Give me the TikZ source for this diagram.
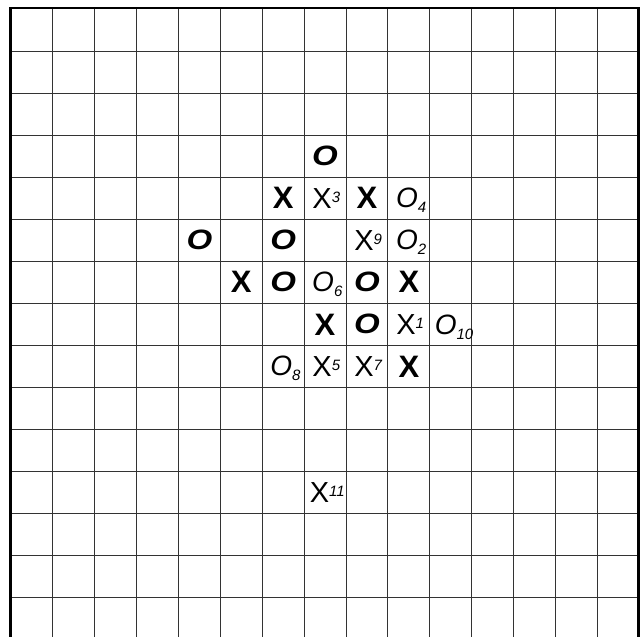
\documentclass[tikz,border=0pt]{standalone}
\usepackage{fontspec}
\setmainfont{Liberation Sans}
\newcommand{\supnum}[1]{{\fontsize{15}{15}\selectfont\itshape\raisebox{6pt}{#1}}}
\newcommand{\subnum}[1]{{\fontsize{15}{15}\selectfont\itshape\raisebox{-5pt}{#1}}}
\newcommand{\wideO}{\scalebox{1.18}[1]{O}}
\begin{document}
\begin{tikzpicture}[x=1pt,y=-1pt,
  gridline/.style={black!80,line width=1pt},
  frameline/.style={black,line width=2.8pt},
  boldX/.style={font=\fontsize{31}{31}\selectfont\bfseries, inner sep=0pt},
  boldO/.style={font=\fontsize{28}{28}\selectfont\bfseries\itshape, inner sep=0pt},
  thinX/.style={font=\fontsize{29}{29}\selectfont, inner sep=0pt},
  thinO/.style={font=\fontsize{28}{28}\selectfont\itshape, inner sep=0pt}]
\useasboundingbox (0,0) rectangle (643,637);
% grid
\foreach \k in {1,...,14}
  \draw[gridline] ({10.8+41.9*\k},9) -- ({10.8+41.9*\k},637);
\foreach \j in {1,...,14}
  \draw[gridline] (10.8,{9+42.05*\j}) -- (638.5,{9+42.05*\j});
\draw[frameline] (10.8,637) -- (10.8,8) -- (638.5,8) -- (638.5,637);
% marks
\node[boldO] (o73) at ({31.75+41.9*7},{30+42.05*3}) {\wideO};
\node[boldX] (x64) at ({31.75+41.9*6},{30+42.05*4}) {X};
\node[thinX] (x74) at ({33+41.9*7},{30+42.05*4}) {X\supnum{3}};
\node[boldX] (x84) at ({31.75+41.9*8},{30+42.05*4}) {X};
\node[thinO] (o94) at ({34+41.9*9},{32+42.05*4}) {O\subnum{4}};
\node[boldO] (o45) at ({31.75+41.9*4},{30+42.05*5}) {\wideO};
\node[boldO] (o65) at ({31.75+41.9*6},{30+42.05*5}) {\wideO};
\node[thinX] (x85) at ({33+41.9*8},{30+42.05*5}) {X\supnum{9}};
\node[thinO] (o95) at ({34+41.9*9},{32+42.05*5}) {O\subnum{2}};
\node[boldX] (x56) at ({31.75+41.9*5},{30+42.05*6}) {X};
\node[boldO] (o66) at ({31.75+41.9*6},{30+42.05*6}) {\wideO};
\node[thinO] (o76) at ({34+41.9*7},{32+42.05*6}) {O\subnum{6}};
\node[boldO] (o86) at ({31.75+41.9*8},{30+42.05*6}) {\wideO};
\node[boldX] (x96) at ({31.75+41.9*9},{30+42.05*6}) {X};
\node[boldX] (x77) at ({31.75+41.9*7},{30+42.05*7}) {X};
\node[boldO] (o87) at ({31.75+41.9*8},{30+42.05*7}) {\wideO};
\node[thinX] (x97) at ({33+41.9*9},{30+42.05*7}) {X\supnum{1}};
\node[thinO] (o107) at ({35+41.9*10},{33+42.05*7}) {O\subnum{10}};
\node[thinO] (o68) at ({34+41.9*6},{32+42.05*8}) {O\subnum{8}};
\node[thinX] (x78) at ({33+41.9*7},{30+42.05*8}) {X\supnum{5}};
\node[thinX] (x88) at ({33+41.9*8},{30+42.05*8}) {X\supnum{7}};
\node[boldX] (x98) at ({31.75+41.9*9},{30+42.05*8}) {X};
\node[thinX] (x711) at ({34+41.9*7},{30+42.05*11}) {X\supnum{11}};
\end{tikzpicture}
\end{document}
